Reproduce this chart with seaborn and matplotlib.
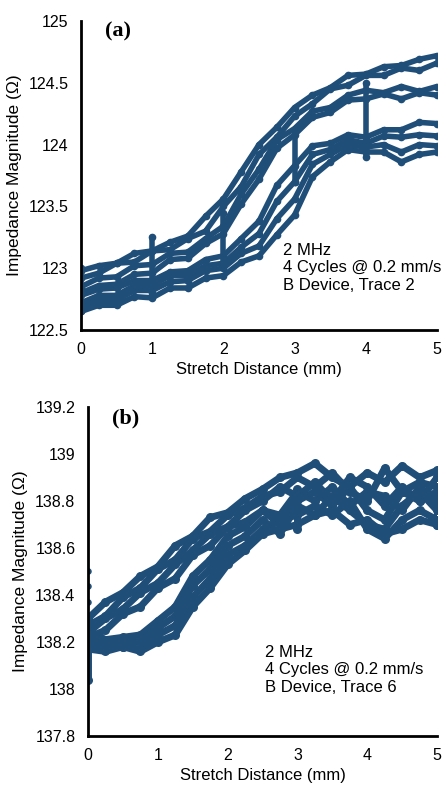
import matplotlib
matplotlib.use("Agg")
import matplotlib.pyplot as plt
import seaborn as sns
import pandas as pd

# Stretch positions (mm) shared by every trace
stretch_mm = [0, 0.25, 0.5, 0.75, 1, 1.25, 1.5, 1.75, 2, 2.25, 2.5,
              2.75, 3, 3.25, 3.5, 3.75, 4, 4.25, 4.5, 4.75, 5]

# Panel (a): 2 MHz, B device, trace 2 -- 4 cycles (stretch + release)
a_trace1 = [122.98, 123.02, 123.04, 123.12, 123.14, 123.21, 123.26, 123.42, 123.56, 123.78, 124.00,
            124.14, 124.30, 124.40, 124.46, 124.56, 124.57, 124.63, 124.64, 124.69, 124.72]
a_trace2 = [122.92, 122.96, 123.04, 123.05, 123.14, 123.15, 123.24, 123.30, 123.50, 123.66, 123.92,
            124.06, 124.23, 124.33, 124.45, 124.48, 124.56, 124.56, 124.62, 124.60, 124.66]
a_trace3 = [122.85, 122.92, 122.93, 123.02, 123.03, 123.12, 123.13, 123.24, 123.34, 123.60, 123.80,
            124.04, 124.13, 124.27, 124.30, 124.40, 124.44, 124.42, 124.47, 124.43, 124.47]
a_trace4 = [122.80, 122.86, 122.87, 122.95, 122.96, 123.07, 123.08, 123.20, 123.28, 123.52, 123.72,
            123.97, 124.08, 124.22, 124.26, 124.36, 124.37, 124.41, 124.37, 124.42, 124.40]
a_trace5 = [122.78, 122.83, 122.84, 122.90, 122.90, 122.97, 122.98, 123.07, 123.10, 123.24, 123.38,
            123.67, 123.83, 123.99, 124.01, 124.08, 124.06, 124.12, 124.12, 124.18, 124.17]
a_trace6 = [122.72, 122.78, 122.78, 122.86, 122.86, 122.94, 122.94, 123.02, 123.04, 123.17, 123.28,
            123.54, 123.70, 123.92, 123.96, 124.04, 124.01, 124.07, 124.06, 124.08, 124.07]
a_trace7 = [122.68, 122.74, 122.74, 122.82, 122.82, 122.89, 122.90, 122.98, 123.00, 123.12, 123.18,
            123.40, 123.56, 123.84, 123.92, 124.00, 123.98, 124.00, 123.94, 124.00, 123.99]
a_trace8 = [122.65, 122.70, 122.70, 122.77, 122.76, 122.84, 122.84, 122.92, 122.94, 123.05, 123.10,
            123.27, 123.43, 123.74, 123.86, 123.96, 123.94, 123.94, 123.86, 123.92, 123.94]
# pauses where the stage stopped (x, low, high)
a_pause_x = [0, 1, 2, 3, 4]
a_pause_lo = [122.65, 122.80, 123.02, 123.70, 123.90]
a_pause_hi = [123.00, 123.25, 123.45, 124.12, 124.50]

# Panel (b): 2 MHz, B device, trace 6
b_trace1 = [138.30, 138.37, 138.41, 138.48, 138.52, 138.61, 138.65, 138.73, 138.75, 138.81, 138.85,
            138.90, 138.92, 138.96, 138.90, 138.86, 138.92, 138.88, 138.95, 138.90, 138.93]
b_trace2 = [138.27, 138.31, 138.39, 138.43, 138.51, 138.55, 138.64, 138.67, 138.74, 138.77, 138.82,
            138.84, 138.90, 138.86, 138.92, 138.84, 138.80, 138.94, 138.84, 138.88, 138.86]
b_trace3 = [138.24, 138.30, 138.34, 138.41, 138.45, 138.53, 138.59, 138.66, 138.69, 138.76, 138.80,
            138.86, 138.82, 138.88, 138.80, 138.90, 138.86, 138.78, 138.86, 138.80, 138.90]
b_trace4 = [138.22, 138.25, 138.32, 138.35, 138.43, 138.47, 138.57, 138.61, 138.69, 138.71, 138.76,
            138.74, 138.84, 138.80, 138.86, 138.78, 138.84, 138.82, 138.76, 138.86, 138.80]
b_trace5 = [138.25, 138.21, 138.22, 138.23, 138.29, 138.35, 138.48, 138.55, 138.65, 138.69, 138.76,
            138.70, 138.80, 138.84, 138.78, 138.86, 138.76, 138.72, 138.84, 138.80, 138.84]
b_trace6 = [138.22, 138.19, 138.20, 138.20, 138.26, 138.31, 138.44, 138.51, 138.61, 138.65, 138.72,
            138.66, 138.78, 138.74, 138.82, 138.76, 138.70, 138.68, 138.78, 138.84, 138.76]
b_trace7 = [138.20, 138.17, 138.18, 138.17, 138.23, 138.27, 138.39, 138.47, 138.57, 138.61, 138.68,
            138.72, 138.74, 138.78, 138.74, 138.80, 138.68, 138.64, 138.72, 138.76, 138.72]
b_trace8 = [138.17, 138.16, 138.18, 138.16, 138.20, 138.23, 138.35, 138.43, 138.53, 138.59, 138.66,
            138.68, 138.70, 138.74, 138.76, 138.70, 138.72, 138.66, 138.68, 138.72, 138.70]
b_pause_x = [0, 3, 5]
b_pause_lo = [138.04, 138.68, 138.70]
b_pause_hi = [138.30, 138.85, 138.92]
# stray readings at the start
b_start_x = [0, 0, 0]
b_start_y = [138.37, 138.44, 138.50]

BLUE = "#1f4e79"


def build_frame(traces, pause_x, pause_lo, pause_hi):
    rows = []
    for i, ys in enumerate(traces):
        for x, y in zip(stretch_mm, ys):
            rows.append({"unit": f"t{i}", "x": x, "y": y})
    for j, (x, lo, hi) in enumerate(zip(pause_x, pause_lo, pause_hi)):
        rows.append({"unit": f"p{j}", "x": x, "y": lo})
        rows.append({"unit": f"p{j}", "x": x, "y": hi})
    return pd.DataFrame(rows)


df_a = build_frame([a_trace1, a_trace2, a_trace3, a_trace4,
                    a_trace5, a_trace6, a_trace7, a_trace8],
                   a_pause_x, a_pause_lo, a_pause_hi)
df_b = build_frame([b_trace1, b_trace2, b_trace3, b_trace4,
                    b_trace5, b_trace6, b_trace7, b_trace8],
                   b_pause_x, b_pause_lo, b_pause_hi)

sns.set_style("white")
plt.rcParams["font.family"] = ["Liberation Sans", "DejaVu Sans"]
plt.rcParams["text.color"] = "black"
plt.rcParams["axes.labelcolor"] = "black"
plt.rcParams["xtick.color"] = "black"
plt.rcParams["ytick.color"] = "black"
FS = 12

fig = plt.figure(figsize=(4.46, 7.85), dpi=100)
ax_a = fig.add_axes([81 / 446, 1 - 330 / 785, 356 / 446, 309 / 785])
ax_b = fig.add_axes([88 / 446, 1 - 736 / 785, 349 / 446, 329 / 785])


def draw(ax, df, lw, ylim, yticks, ylabels, label, note):
    sns.lineplot(data=df, x="x", y="y", units="unit", estimator=None, sort=False,
                 color=BLUE, linewidth=lw, marker="o", markersize=lw + 1.5,
                 markeredgewidth=0, solid_capstyle="round", solid_joinstyle="round", ax=ax)
    ax.set_xlim(0, 5)
    ax.set_ylim(*ylim)
    ax.set_xticks([0, 1, 2, 3, 4, 5])
    ax.set_xticklabels(["0", "1", "2", "3", "4", "5"])
    ax.set_yticks(yticks)
    ax.set_yticklabels(ylabels)
    ax.tick_params(length=0, labelsize=11.5, pad=9, colors="black")
    for s in ["top", "right"]:
        ax.spines[s].set_visible(False)
    for s in ["left", "bottom"]:
        ax.spines[s].set_color("black")
        ax.spines[s].set_linewidth(2)
    ax.set_xlabel("Stretch Distance (mm)", fontsize=FS, labelpad=3, color="black")
    ax.set_ylabel("Impedance Magnitude (\u03a9)", fontsize=12.5, labelpad=5, color="black")
    ax.text(0.068, 0.965, label, transform=ax.transAxes, va="center", ha="left",
            fontsize=16, fontweight="bold", family="Liberation Serif", color="black")
    ax.text(note[0], note[1], note[2], transform=ax.transAxes, va="top", ha="left",
            fontsize=FS, linespacing=1.2, color="black")


draw(ax_a, df_a, 4.0, (122.5, 125), [122.5, 123, 123.5, 124, 124.5, 125],
     ["122.5", "123", "123.5", "124", "124.5", "125"], "(a)",
     (0.567, 0.282, "2 MHz\n4 Cycles @ 0.2 mm/s\nB Device, Trace 2"))
draw(ax_b, df_b, 5.0, (137.8, 139.2), [137.8, 138, 138.2, 138.4, 138.6, 138.8, 139, 139.2],
     ["137.8", "138", "138.2", "138.4", "138.6", "138.8", "139", "139.2"], "(b)",
     (0.507, 0.277, "2 MHz\n4 Cycles @ 0.2 mm/s\nB Device, Trace 6"))
sns.scatterplot(x=b_start_x, y=b_start_y, color=BLUE, s=22, linewidth=0, ax=ax_b)

fig.savefig("out.png", dpi=100)
